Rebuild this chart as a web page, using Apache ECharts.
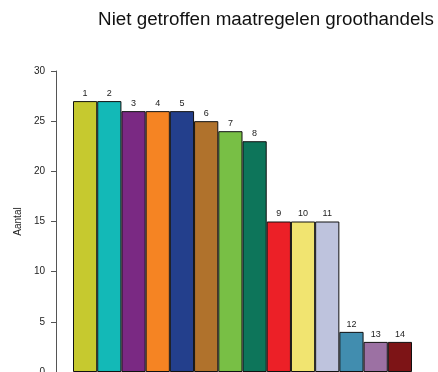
<!DOCTYPE html>
<html>
<head>
<meta charset="utf-8">
<script src="https://cdn.jsdelivr.net/npm/echarts@6/dist/echarts.min.js"></script>
<style>html,body{margin:0;padding:0;background:#fff}#c{width:438px;height:372px}</style>
</head>
<body>
<div id="c"></div>
<script>
var categories = ['1','2','3','4','5','6','7','8','9','10','11','12','13','14'];
var values = [27,27,26,26,26,25,24,23,15,15,15,4,3,3];
var colors = ['#C6C92F','#13B9B7','#7A2983','#F58423','#233F8C','#B0722C','#78BF45','#0D755A','#EC2027','#F1E470','#BEC3DD','#418DAF','#9C71A3','#7D1416'];
var yTicks = [0,5,10,15,20,25,30];
var title = 'Niet getroffen maatregelen groothandels';
var yName = 'Aantal';

var chart = echarts.init(document.getElementById('c'), null, {renderer:'canvas'});
chart.setOption({
  animation: false,
  title: {
    text: title,
    left: 266, top: 10, textAlign: 'center', padding: 0,
    textStyle: {fontFamily: 'Liberation Sans, Arial, sans-serif', fontSize: 18.8, fontWeight: 'normal', color: '#111'}
  },
  grid: {left: 73, right: 26, top: 71, bottom: 0, containLabel: false, outerBoundsMode: 'none'},
  xAxis: {
    type: 'category', data: categories,
    axisLine: {show: false}, axisTick: {show: false}, axisLabel: {show: false}, splitLine: {show: false}
  },
  yAxis: {
    type: 'value', min: yTicks[0], max: yTicks[yTicks.length-1], interval: 5,
    offset: 17,
    name: yName, nameLocation: 'middle', nameGap: 33, nameRotate: 90,
    nameTextStyle: {fontFamily: 'Liberation Sans, Arial, sans-serif', fontSize: 10, color: '#222'},
    axisLine: {show: true, lineStyle: {color: '#555', width: 1}},
    axisTick: {show: true, length: 5, lineStyle: {color: '#555'}},
    axisLabel: {margin: 11, fontFamily: 'Liberation Sans, Arial, sans-serif', fontSize: 10, color: '#222'},
    splitLine: {show: false}
  },
  series: [{
    type: 'bar',
    data: values.map(function(v,i){return {value:v, itemStyle:{color:colors[i]}};}),
    barCategoryGap: '0%',
    itemStyle: {borderColor: '#111', borderWidth: 1},
    label: {
      show: true, position: 'top', distance: 3,
      formatter: function(p){return categories[p.dataIndex];},
      fontFamily: 'Liberation Sans, Arial, sans-serif', fontSize: 9, color: '#222'
    }
  }]
});
</script>
</body>
</html>
